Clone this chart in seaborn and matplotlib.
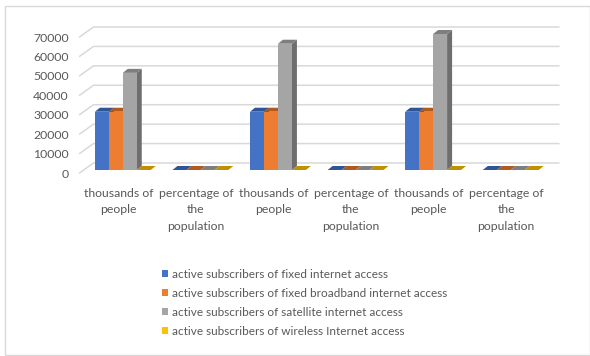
import numpy as np
import pandas as pd
import matplotlib
matplotlib.use("Agg")
import matplotlib.pyplot as plt
import matplotlib.transforms as mtransforms
from matplotlib.patches import Polygon, Rectangle, Patch
import seaborn as sns

# ---- data -------------------------------------------------------------
categories = ["thousands of\npeople", "percentage of\nthe\npopulation",
              "thousands of\npeople", "percentage of\nthe\npopulation",
              "thousands of\npeople", "percentage of\nthe\npopulation"]
series_names = ["active subscribers of fixed internet access",
                "active subscribers of fixed broadband internet access",
                "active subscribers of satellite internet access",
                "active subscribers of wireless Internet access"]
fixed_access = [30000, 0, 30000, 0, 30000, 0]
fixed_broadband = [30000, 0, 30000, 0, 30000, 0]
satellite_access = [50000, 0, 65000, 0, 70000, 0]
wireless_access = [0, 0, 0, 0, 0, 0]
y_ticks = [0, 10000, 20000, 30000, 40000, 50000, 60000, 70000]

front_colors = ["#4472C4", "#ED7D31", "#A5A5A5", "#FFC000"]
top_colors = ["#2F5597", "#B05A20", "#7E7E7E", "#BF9000"]
side_colors = ["#2A4C86", "#9A4F1C", "#6E6E6E", "#A67D00"]
text_color = "#595959"
grid_color = "#D9D9D9"

sns.set_theme(style="white")
plt.rcParams["font.family"] = ["Lato", "DejaVu Sans"]

rows = []
for name, vals in zip(series_names, [fixed_access, fixed_broadband,
                                     satellite_access, wireless_access]):
    for i, v in enumerate(vals):
        rows.append({"slot": i, "series": name, "value": v})
df = pd.DataFrame(rows)

W, H, DPI = 590, 356, 100
fig = plt.figure(figsize=(W / DPI, H / DPI), dpi=DPI)
fig.patch.set_facecolor("white")

# front plane of the 3-D box, in figure pixels
left_px, right_px, floor_px, top_px = 79.5, 545.0, 173.0, 37.0
ax = fig.add_axes([left_px / W, (H - floor_px) / H,
                   (right_px - left_px) / W, (floor_px - top_px) / H])
ax.set_facecolor("none")

sns.barplot(data=df, x="slot", y="value", hue="series",
            hue_order=series_names, palette=front_colors,
            width=0.72, dodge=True, ax=ax, legend=False,
            errorbar=None, linewidth=0, saturation=1)

ax.set_xlim(-0.5, len(categories) - 0.5)
ax.set_ylim(0, 70000)
ax.set_yticks(y_ticks)
ax.set_yticklabels([str(t) for t in y_ticks])
ax.set_xticks(range(len(categories)))
ax.set_xticklabels(categories, linespacing=1.6)
ax.set_xlabel("")
ax.set_ylabel("")
for s in ax.spines.values():
    s.set_visible(False)
ax.tick_params(axis="both", length=0, colors=text_color, labelsize=8.8)
ax.tick_params(axis="y", pad=7.6)
ax.tick_params(axis="x", pad=10.6)
ax.grid(False)

ident = mtransforms.IdentityTransform()

# back wall gridlines (with the short diagonal along the side wall)
wall_dx, wall_dy = 14.0, 10.0
for v in y_ticks:
    fx, fy = ax.transData.transform((ax.get_xlim()[0], v))
    rx, _ = ax.transData.transform((ax.get_xlim()[1], v))
    ax.add_line(plt.Line2D([fx, fx + wall_dx, rx + wall_dx],
                           [fy, fy + wall_dy, fy + wall_dy],
                           transform=ident, color=grid_color, lw=1.1,
                           clip_on=False, zorder=0.5))

# bars sit a little behind the front plane; give each a top and a side face
bar_shift = mtransforms.offset_copy(ax.transData, fig=fig, x=4.5, y=3.0,
                                    units="dots")
depth_dx, depth_dy = 5.0, 4.0
bars = []
for k, cont in enumerate(ax.containers):
    for p in cont.patches:
        bars.append((p.get_x(), k, p))
bars.sort(key=lambda b: b[0])
for i, (_, k, p) in enumerate(bars):
    x0, w, h = p.get_x(), p.get_width(), p.get_height()
    p.set_transform(bar_shift)
    p.set_clip_on(False)
    base = 3 + i * 0.01
    p.set_zorder(base + 0.003)
    tl = np.array(bar_shift.transform((x0, h)))
    tr = np.array(bar_shift.transform((x0 + w, h)))
    br = np.array(bar_shift.transform((x0 + w, 0)))
    d = np.array([depth_dx, depth_dy])
    side = Polygon([br, tr, tr + d, br + d], closed=True, transform=ident,
                   facecolor=side_colors[k], edgecolor="none",
                   clip_on=False, zorder=base)
    top = Polygon([tl, tr, tr + d, tl + d], closed=True, transform=ident,
                  facecolor=top_colors[k], edgecolor="none",
                  clip_on=False, zorder=base + 0.001)
    ax.add_patch(side)
    ax.add_patch(top)

# legend
handles = [Patch(facecolor=c, edgecolor="none") for c in front_colors]
leg = fig.legend(handles, series_names, loc="upper left",
                 bbox_to_anchor=(162 / W, 1 - 269 / H), frameon=False,
                 fontsize=8.5, handlelength=0.52, handleheight=0.52,
                 handletextpad=0.36, labelspacing=0.68, borderpad=0,
                 borderaxespad=0)
for t in leg.get_texts():
    t.set_color(text_color)

# chart frame
fig.add_artist(Rectangle((4.5 / W, 1 / H), 585 / W, 349 / H,
                         transform=fig.transFigure, fill=False,
                         edgecolor=grid_color, lw=1.0))

fig.savefig("out.png", dpi=DPI)
